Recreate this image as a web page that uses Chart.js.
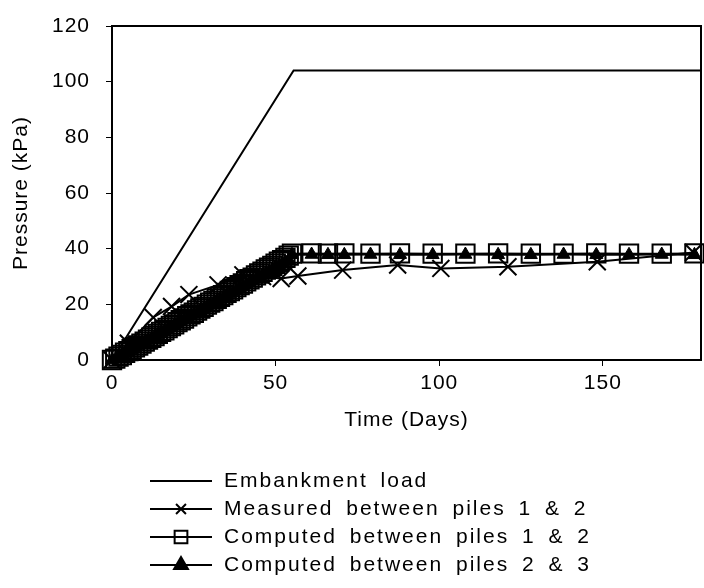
<!DOCTYPE html>
<html>
<head>
<meta charset="utf-8">
<script src="https://cdn.jsdelivr.net/npm/chart.js@4.4.1/dist/chart.umd.min.js"></script>
<style>
  html, body { margin: 0; padding: 0; background: #fff; }
</style>
</head>
<body>
<canvas id="pressureChart" width="704" height="588"></canvas>
<script>
    // values
    const xTicks = [0, 50, 100, 150];

    const loadDays = [0, 55.5, 180];
    const loadValues = [0, 104, 104];

    const measuredDays = [0, 5, 12.6, 18.2, 23.5, 32.4, 40, 46, 51.7, 56.8, 70.5, 87.3, 100.5, 121, 148.3, 177.7];
    const measuredValues = [0, 6, 15.3, 19.2, 23.5, 27, 30.6, 30, 29.3, 30.2, 32.3, 34.1, 32.9, 33.5, 35.3, 38.6];

    const computedDays = [0, 1, 2, 3, 4, 5, 6, 7, 8, 9, 10, 11, 12, 13, 14, 15, 16, 17, 18, 19, 20,
        21, 22, 23, 24, 25, 26, 27, 28, 29, 30, 31, 32, 33, 34, 35, 36, 37, 38, 39, 40,
        41, 42, 43, 44, 45, 46, 47, 48, 49, 50, 51, 52, 53, 54,
        55, 61, 66, 71, 79, 88, 98, 108, 118, 128, 138, 148, 158, 168, 178];
    const computed12 = [0, 0.5, 1.2, 1.8, 2.6, 3.2, 3.9, 4.6, 5.2, 5.9, 6.6, 7.3, 8.0, 8.6, 9.4, 10.1, 10.7, 11.5, 12.2, 12.8, 13.6,
        14.3, 14.9, 15.7, 16.4, 17.0, 17.8, 18.5, 19.1, 19.9, 20.6, 21.2, 22.0, 22.7, 23.3, 24.1, 24.8, 25.4, 26.2, 26.9, 27.5,
        28.3, 29.0, 29.6, 30.4, 31.1, 31.7, 32.5, 33.2, 33.8, 34.6, 35.3, 35.9, 36.7, 37.5,
        38.2, 38.3, 38.2, 38.3, 38.2, 38.3, 38.2, 38.2, 38.3, 38.2, 38.2, 38.3, 38.2, 38.2, 38.3];
    const computed23 = [0, 0.3, 1.0, 1.6, 2.3, 3.0, 3.6, 4.3, 5.0, 5.6, 6.3, 7.0, 7.6, 8.3, 9.0, 9.7, 10.3, 11.0, 11.7, 12.3, 13.0,
        13.7, 14.4, 15.0, 15.7, 16.4, 17.0, 17.7, 18.4, 19.0, 19.7, 20.4, 21.1, 21.7, 22.4, 23.1, 23.7, 24.4, 25.1, 25.8, 26.4,
        27.1, 27.8, 28.4, 29.1, 29.8, 30.5, 31.1, 31.8, 32.5, 33.1, 33.8, 34.5, 35.2, 36.0,
        37.8, 37.9, 37.8, 37.8, 37.9, 37.8, 37.8, 37.9, 37.8, 37.8, 37.9, 37.8, 37.8, 37.9, 37.8];

    const seriesNames = ['Embankment load', 'Measured between piles 1 & 2', 'Computed between piles 1 & 2', 'Computed between piles 2 & 3'];

    function toPoints(days, values) {
        return days.map((d, i) => ({ x: d, y: values[i] }));
    }

    Chart.defaults.font.family = "'Liberation Sans', Arial, sans-serif";
    Chart.defaults.color = '#000';

    // the original text is a bit spread out
    const spacing = {
        id: 'spacing',
        beforeUpdate(chart) { chart.ctx.letterSpacing = '1px'; },
        beforeDraw(chart) { chart.ctx.letterSpacing = '1px'; }
    };

    // box round the plot area
    const frame = {
        id: 'frame',
        beforeDatasetsDraw(chart) {
            const a = chart.chartArea;
            const ctx = chart.ctx;
            ctx.save();
            ctx.strokeStyle = '#000';
            ctx.lineWidth = 2;
            ctx.strokeRect(a.left, a.top, a.right - a.left, a.bottom - a.top);
            ctx.restore();
        }
    };

    // one legend entry per row, under the axis title
    const stackedLegend = {
        id: 'stackedLegend',
        afterDraw(chart) {
            const ctx = chart.ctx;
            const x0 = 150, x1 = 212, textX = 224, y0 = 481, dy = 28;
            const sizes = [0, 7, 9, 8];
            ctx.save();
            ctx.font = "21px 'Liberation Sans', Arial, sans-serif";
            ctx.textBaseline = 'middle';
            ctx.fillStyle = '#000';
            ctx.letterSpacing = '2px';
            ctx.wordSpacing = '5px';
            chart.data.datasets.forEach((ds, i) => {
                const y = y0 + i * dy;
                ctx.strokeStyle = '#000';
                ctx.lineWidth = 2;
                ctx.beginPath();
                ctx.moveTo(x0, y);
                ctx.lineTo(x1, y);
                ctx.stroke();
                if (sizes[i]) {
                    ctx.fillStyle = ds.pointBackgroundColor;
                    ctx.strokeStyle = '#000';
                    Chart.helpers.drawPoint(ctx, {
                        pointStyle: ds.pointStyle, radius: sizes[i], rotation: 0, borderWidth: 2
                    }, (x0 + x1) / 2, y);
                }
                ctx.fillStyle = '#000';
                ctx.fillText(ds.label, textX, y);
            });
            ctx.restore();
        }
    };

    const ctx = document.getElementById('pressureChart').getContext('2d');

    new Chart(ctx, {
        type: 'line',
        data: {
            datasets: [{
                label: seriesNames[0],
                data: toPoints(loadDays, loadValues),
                borderColor: '#000',
                borderWidth: 2,
                pointRadius: 0,
                pointStyle: false,
                pointBackgroundColor: '#000'
            }, {
                label: seriesNames[1],
                data: toPoints(measuredDays, measuredValues),
                borderColor: '#000',
                borderWidth: 2,
                pointStyle: 'crossRot',
                pointRadius: 12,
                pointBorderWidth: 2,
                pointBorderColor: '#000',
                pointBackgroundColor: '#000'
            }, {
                label: seriesNames[2],
                data: toPoints(computedDays, computed12),
                borderColor: '#000',
                borderWidth: 2,
                pointStyle: 'rect',
                pointRadius: 13,
                pointBorderWidth: 2,
                pointBorderColor: '#000',
                pointBackgroundColor: 'rgba(0,0,0,0)'
            }, {
                label: seriesNames[3],
                data: toPoints(computedDays, computed23),
                borderColor: '#000',
                borderWidth: 2,
                pointStyle: 'triangle',
                pointRadius: 7.5,
                pointBorderWidth: 1,
                pointBorderColor: '#000',
                pointBackgroundColor: '#000'
            }]
        },
        options: {
            responsive: false,
            animation: false,
            devicePixelRatio: 1,
            clip: false,
            layout: { autoPadding: false, padding: { top: 26, right: 3, left: 0, bottom: 148 } },
            plugins: {
                legend: { display: false },
                tooltip: { enabled: false }
            },
            elements: { line: { tension: 0 } },
            scales: {
                x: {
                    type: 'linear',
                    min: 0,
                    max: 180,
                    afterBuildTicks: scale => { scale.ticks = xTicks.map(v => ({ value: v })); },
                    afterFit: scale => {
                        scale.height = 80;
                        scale.paddingLeft = 0;
                        scale.paddingRight = 0;
                    },
                    grid: { drawOnChartArea: false, tickLength: 6, color: '#000' },
                    border: { color: '#000', width: 2 },
                    ticks: { font: { size: 21 }, padding: 5, maxRotation: 0 },
                    title: { display: true, text: 'Time (Days)', font: { size: 21 }, padding: { top: 0, bottom: 7 } }
                },
                y: {
                    min: 0,
                    max: 120,
                    afterFit: scale => {
                        scale.width = 112;
                        scale.paddingTop = 0;
                        scale.paddingBottom = 0;
                    },
                    grid: { drawOnChartArea: false, tickLength: 6, color: '#000' },
                    border: { color: '#000', width: 2 },
                    ticks: { stepSize: 20, font: { size: 21 }, padding: 16 },
                    title: { display: true, text: 'Pressure (kPa)', font: { size: 21 }, padding: { top: 9, bottom: 0 } }
                }
            }
        },
        plugins: [spacing, frame, stackedLegend]
    });
</script>
</body>
</html>
